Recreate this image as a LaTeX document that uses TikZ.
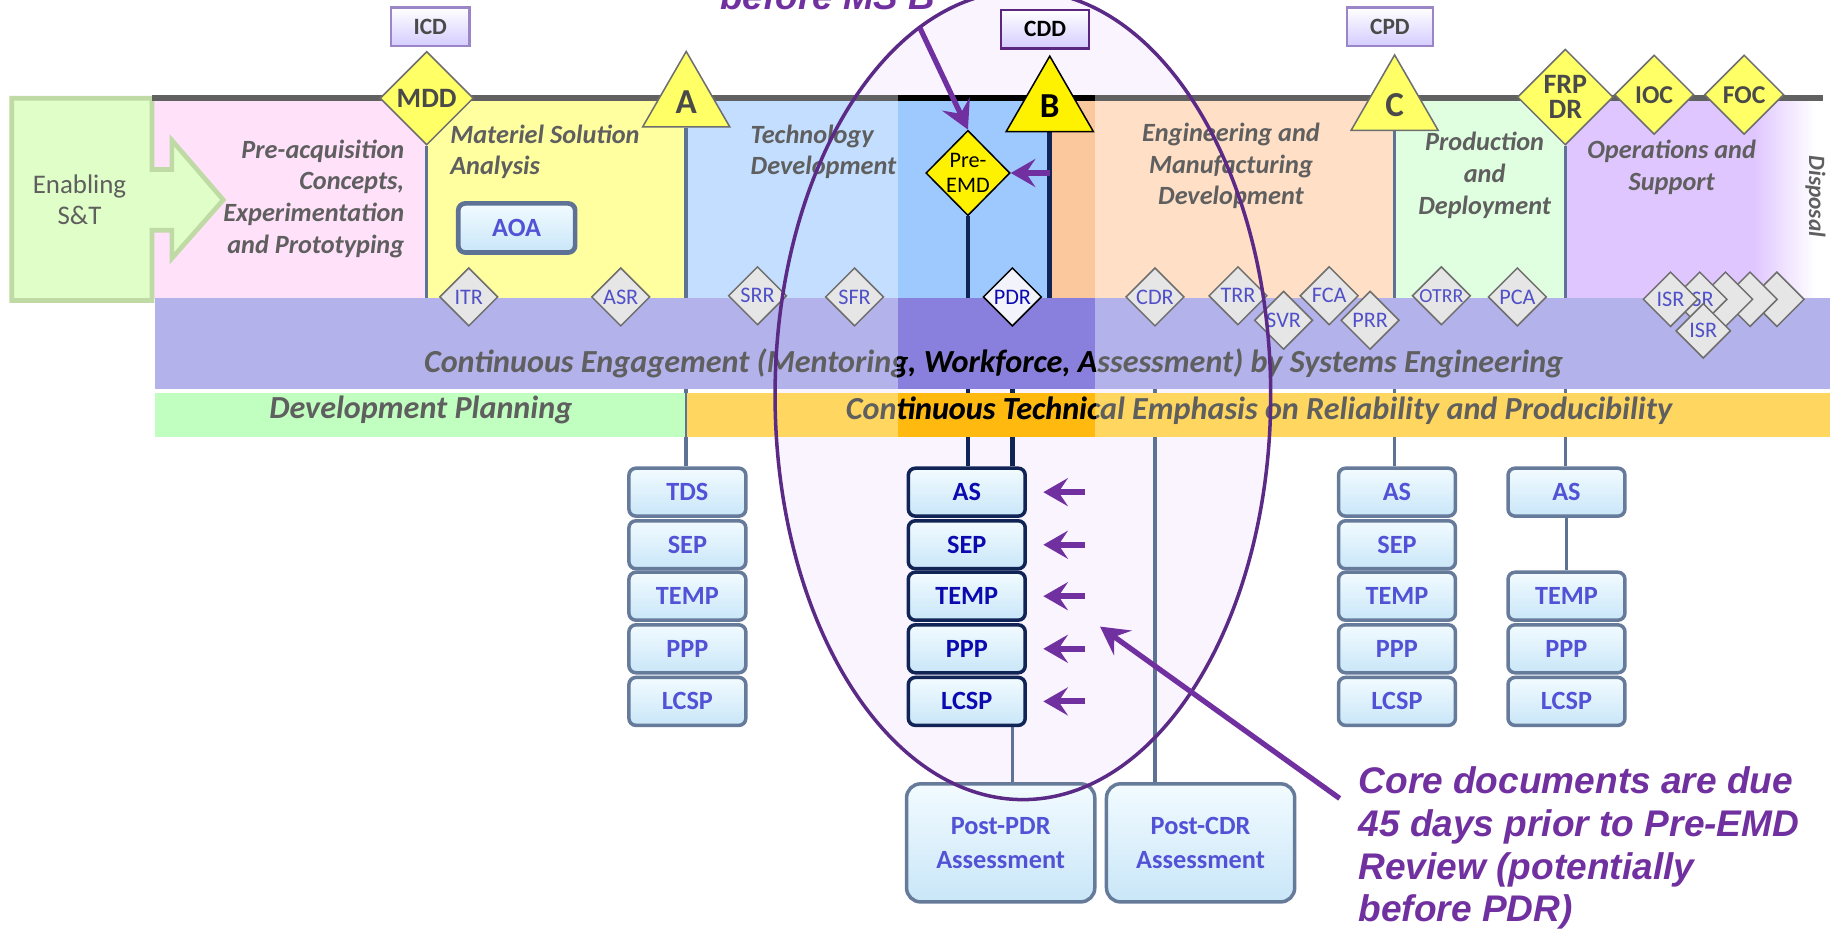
\documentclass[tikz,border=0pt]{standalone}
\usepackage{fontspec}
\setmainfont{Carlito}
\newfontfamily\arialfont{Liberation Sans}
\usetikzlibrary{shapes.geometric,arrows.meta}
\pgfdeclarelayer{back}
\pgfdeclarelayer{lines}
\pgfdeclarelayer{bands}
\pgfdeclarelayer{front}
\pgfsetlayers{back,lines,bands,main,front}

\definecolor{pinkph}{HTML}{FFE1FA}
\definecolor{yellowph}{HTML}{FFFFA0}
\definecolor{blueph}{HTML}{C3DEFF}
\definecolor{bluephB}{HTML}{9DC9FF}
\definecolor{peachB}{HTML}{FBC89E}
\definecolor{peach}{HTML}{FFE0C6}
\definecolor{greenph}{HTML}{E0FFE0}
\definecolor{purpleph}{HTML}{E0C6FF}
\definecolor{bandblue}{HTML}{B3B2EA}
\definecolor{bandblueB}{HTML}{8980DE}
\definecolor{bandgreen}{HTML}{C0FFC0}
\definecolor{bandorange}{HTML}{FFD760}
\definecolor{bandorangeB}{HTML}{FFB90F}
\definecolor{ellfill}{HTML}{FAF4FF}
\definecolor{ellline}{HTML}{5A2A86}
\definecolor{annot}{HTML}{7030A0}
\definecolor{txtgray}{HTML}{5F5F5F}
\definecolor{docline}{HTML}{667A9A}
\definecolor{docTop}{HTML}{F2FBFF}
\definecolor{docBot}{HTML}{C9E6F8}
\definecolor{doctext}{HTML}{5252D6}
\definecolor{navy}{HTML}{102456}
\definecolor{darkdoc}{HTML}{0A0AB0}
\definecolor{revfill}{HTML}{E6E6E6}
\definecolor{revline}{HTML}{6E6E6E}
\definecolor{revtext}{HTML}{5050C8}
\definecolor{msyellow}{HTML}{FFFF66}
\definecolor{msbright}{HTML}{FFF200}
\definecolor{msline}{HTML}{6E6E6E}
\definecolor{mstext}{HTML}{4A4A4A}
\definecolor{msboxline}{HTML}{9A86C6}
\definecolor{msboxfill}{HTML}{D4CCFF}
\definecolor{enfill}{HTML}{E0FFC8}
\definecolor{enline}{HTML}{C0DAA6}
\definecolor{divcol}{HTML}{5E7296}

\tikzset{
  phasetxt/.style={font=\bfseries\itshape\fontsize{22.5}{27}\selectfont, text=txtgray, inner sep=0, align=center},
  bandtxt/.style={font=\bfseries\itshape\fontsize{27.5}{29}\selectfont, inner sep=0},
  doc/.style={draw=docline, line width=3pt, rounded corners=6pt, top color=docTop, bottom color=docBot,
    minimum width=100pt, minimum height=41pt, inner sep=0, text=doctext, font=\bfseries\fontsize{22.5}{24}\selectfont},
  docdark/.style={doc, draw=navy, text=darkdoc},
  postbox/.style={doc, rounded corners=12pt, minimum width=161pt, minimum height=101pt, align=center,
    font=\bfseries\fontsize{22.5}{29}\selectfont},
  review/.style={diamond, draw=revline, line width=1.3pt, fill=revfill, minimum width=50pt, minimum height=50pt,
    inner sep=0, text=revtext, font=\fontsize{19}{20}\selectfont},
  blank/.style={review},
  msdia/.style={diamond, draw=msline, line width=1.3pt, fill=msyellow, inner sep=0, text=mstext,
    font=\bfseries\fontsize{24}{22}\selectfont, align=center},
  mstri/.style={regular polygon, regular polygon sides=3, minimum size=86pt, draw=msline, line width=1.3pt,
    fill=msyellow, inner sep=0, text=mstext, font=\bfseries\fontsize{30}{30}\selectfont},
  msbox/.style={draw=msboxline, line width=2pt, top color=white, bottom color=msboxfill, minimum height=33pt,
    inner sep=0, font=\bfseries\fontsize{20}{20}\selectfont, text=mstext},
  divider/.style={draw=divcol, line width=3pt},
  navyline/.style={draw=navy, line width=4pt},
  smallarrow/.style={draw=annot, line width=5pt, -{Stealth[length=21pt,width=24pt,inset=8pt]}},
  bigarrow/.style={draw=annot, line width=4.5pt, -{Stealth[length=24pt,width=26pt,inset=9pt]}},
}

\begin{document}
\begin{tikzpicture}[x=1pt,y=-1pt]
\useasboundingbox (0,0) rectangle (1568,798);

% ---------- background layer ----------
\begin{pgfonlayer}{back}
  \fill[ellfill] (875,338) ellipse [x radius=212pt, y radius=346pt];
  \fill[pinkph] (130,84) rectangle (365,256);
  \fill[yellowph] (365,84) rectangle (587,256);
  \fill[blueph] (587,84) rectangle (768,256);
  \fill[bluephB] (768,84) rectangle (900,256);
  \fill[peachB] (900,84) rectangle (937,256);
  \fill[peach] (937,84) rectangle (1193,256);
  \fill[greenph] (1193,84) rectangle (1340,256);
  \fill[purpleph] (1340,84) rectangle (1500,256);
  \shade[left color=purpleph, right color=white] (1500,84) rectangle (1553,256);
  \draw[draw=enline, line width=4pt, fill=enfill, line join=miter]
    (10,84) -- (130,84) -- (130,145) -- (147,145) -- (147,120) -- (191,171) -- (147,221)
    -- (147,197) -- (130,197) -- (130,257) -- (10,257) -- cycle;
\end{pgfonlayer}

% ---------- bands ----------
\begin{pgfonlayer}{bands}
  \node[fill=bandblue, minimum width=1432pt, minimum height=78pt, anchor=north west, inner sep=0, outer sep=0] (ceband) at (133,255) {};
  \fill[bandblueB] (768,255) rectangle (937,333);
  \node[fill=bandgreen, minimum width=454pt, minimum height=38pt, anchor=north west, inner sep=0, outer sep=0] (dpband) at (133,336) {};
  \node[fill=bandorange, minimum width=978pt, minimum height=38pt, anchor=north west, inner sep=0, outer sep=0] (ctband) at (587,336) {};
  \fill[bandorangeB] (768,336) rectangle (937,374);
  \draw[divcol, line width=1.5pt] (dpband.north east) -- (dpband.south east);
\end{pgfonlayer}

% ---------- texts in phases ----------
\node[font=\fontsize{23}{27}\selectfont, text=txtgray, align=center] (enab) at (68,171) {Enabling\\S\&T};
\node[phasetxt, align=right, anchor=east] (preacq) at (346,170) {Pre-acquisition\\Concepts,\\Experimentation\\and Prototyping};
\node[phasetxt, align=left, anchor=west] (msa) at (385,130) {Materiel Solution\\Analysis};
\node[phasetxt, align=left, anchor=west] (td) at (642,130) {Technology\\Development};
\node[phasetxt] (emd) at (1053,142) {Engineering and\\Manufacturing\\Development};
\node[phasetxt] (pd) at (1270,150) {Production\\and\\Deployment};
\node[phasetxt] (os) at (1430,143) {Operations and\\Support};
\node[phasetxt, rotate=-90, font=\bfseries\itshape\fontsize{20}{22}\selectfont] (disp) at (1553,168) {Disposal};
\node[doc, minimum width=100pt, minimum height=42pt, line width=4pt, draw=divcol] (AOA) at (442,195) {AOA};

% ---------- band texts ----------
\node[bandtxt, text=txtgray] (cetxt) at (850,311) {Continuous Engagement (Mentoring, Workforce, Assessment) by Systems Engineering};
\node[bandtxt, text=txtgray] (dptxt) at (360,351) {Development Planning};
\node[bandtxt, text=txtgray] (cttxt) at (1077,351) {Continuous Technical Emphasis on Reliability and Producibility};
\begin{scope}
  \clip (768,255) rectangle (937,374);
  \node[bandtxt, text=black] (cetxtk) at (850,311) {Continuous Engagement (Mentoring, Workforce, Assessment) by Systems Engineering};
  \node[bandtxt, text=black] (cttxtk) at (1077,351) {Continuous Technical Emphasis on Reliability and Producibility};
\end{scope}

% ---------- review diamonds ----------
\node[review] (ITR) at (401,254) {ITR};
\node[review] (ASR) at (531,254) {ASR};
\node[review] (SRR) at (648,253) {SRR};
\node[review] (SFR) at (731,254) {SFR};
\node[review, draw=black, fill=revfill!85!blue!20, text=darkdoc] (PDR) at (866,254) {PDR};
\node[review] (CDR) at (988,254) {CDR};
\node[review] (TRR) at (1059,253) {TRR};
\node[review] (FCA) at (1137,253) {FCA};
\node[review] (SVR) at (1098,274) {SVR};
\node[review] (PRR) at (1172,274) {PRR};
\node[review, font=\fontsize{17}{18}\selectfont] (OTRR) at (1233,253) {OTRR};
\node[review] (PCA) at (1298,254) {PCA};
\node[blank, minimum width=47pt, minimum height=47pt] (isrc) at (1520,256) {};
\node[blank, minimum width=47pt, minimum height=47pt] (isrb) at (1497,256) {};
\node[blank, minimum width=47pt, minimum height=47pt] (isra) at (1476,256) {};
\node[review, minimum width=47pt, minimum height=47pt] (ISRb) at (1454,256) {ISR};
\node[review, minimum width=47pt, minimum height=47pt] (ISRa) at (1429,256) {ISR};
\node[review, minimum width=47pt, minimum height=47pt] (ISRd) at (1457,283) {ISR};

% ---------- milestones ----------
\node[msbox, minimum width=67pt] (ICD) at (368,23) {ICD};
\node[msbox, minimum width=75pt, draw=annot!80!black, text=black] (CDD) at (894,25) {CDD};
\node[msbox, minimum width=74pt] (CPD) at (1189,23) {CPD};
\node[msdia, minimum width=80pt, minimum height=80pt] (MDD) at (365,84) {MDD};
\node[mstri] (A) at (587,87) {A};
\node[mstri, fill=msbright, draw=black, text=black] (B) at (898,91) {B};
\node[mstri] (C) at (1193,90) {C};
\node[msdia, minimum width=82pt, minimum height=82pt] (FRP) at (1339,83) {FRP\\DR};
\node[msdia, minimum width=68pt, minimum height=68pt, font=\bfseries\fontsize{22}{22}\selectfont] (IOC) at (1415,81) {IOC};
\node[msdia, minimum width=68pt, minimum height=68pt, font=\bfseries\fontsize{22}{22}\selectfont] (FOC) at (1492,81) {FOC};
\node[msdia, minimum width=72pt, minimum height=73pt, fill=msbright, draw=black, text=black,
      font=\fontsize{19}{21}\selectfont] (preemd) at (828,148) {Pre-\\EMD};

% ---------- document boxes ----------
\node[doc] (TDS) at (588,421) {TDS};
\node[doc] (SEPa) at (588,466) {SEP};
\node[doc] (TEMPa) at (588,510) {TEMP};
\node[doc] (PPPa) at (588,555) {PPP};
\node[doc] (LCSPa) at (588,600) {LCSP};

\node[docdark] (ASm) at (827,421) {AS};
\node[docdark] (SEPm) at (827,466) {SEP};
\node[docdark] (TEMPm) at (827,510) {TEMP};
\node[docdark] (PPPm) at (827,555) {PPP};
\node[docdark] (LCSPm) at (827,600) {LCSP};

\node[doc] (ASr1) at (1195,421) {AS};
\node[doc] (SEPr1) at (1195,466) {SEP};
\node[doc] (TEMPr1) at (1195,510) {TEMP};
\node[doc] (PPPr1) at (1195,555) {PPP};
\node[doc] (LCSPr1) at (1195,600) {LCSP};

\node[doc] (ASr2) at (1340,421) {AS};
\node[doc] (TEMPr2) at (1340,510) {TEMP};
\node[doc] (PPPr2) at (1340,555) {PPP};
\node[doc] (LCSPr2) at (1340,600) {LCSP};
\draw[divider] (ASr2.south) -- (TEMPr2.north);

\node[postbox] (postpdr) at (856,721) {Post-PDR\\Assessment};
\node[postbox] (postcdr) at (1027,721) {Post-CDR\\Assessment};

% ---------- connector lines (behind bands) ----------
\begin{pgfonlayer}{lines}
  \coordinate (tl0) at (130,84);
  \coordinate (tl1) at (1559,84);
  \coordinate (tlk0) at (768,84);
  \coordinate (tlk1) at (937,84);
  \draw[draw=black!62, line width=5pt] (tl0) -- (tl1);
  \draw[draw=black, line width=5pt] (tlk0) -- (tlk1);
  \draw[divider] (MDD.south) -- (MDD.south |- ceband.north);
  \draw[divider] (A.south) -- (A.south |- TDS.north);
  \draw[navyline] (preemd.south) -- (preemd.south |- ASm.north);
  \draw[navyline] (B.south) -- (B.south |- ceband.north);
  \draw[navyline] (PDR.south) -- (PDR.south |- ASm.north);
  \draw[divider] (CDR.south) -- (CDR.south |- postcdr.north);
  \draw[divider] (C.south) -- (C.south |- ASr1.north);
  \draw[divider] (FRP.south) -- (FRP.south |- ASr2.north);
  \draw[divider] (PDR.south |- LCSPm.south) -- (PDR.south |- postpdr.north);
\end{pgfonlayer}

% ---------- annotations ----------
\begin{pgfonlayer}{front}
  \draw[ellline, line width=3pt] (875,338) ellipse [x radius=212pt, y radius=346pt];
  \foreach \n in {ASm,SEPm,TEMPm,PPPm,LCSPm}{
    \draw[smallarrow] ([xshift=50pt]\n.east) -- ([xshift=14pt]\n.east);
  }
  \coordinate (msbTail) at (787,24);
  \draw[bigarrow] (msbTail) -- (preemd.north);
  \draw[smallarrow, line width=4.5pt] (B.south |- preemd.east) -- (preemd.east);
  \node[font=\arialfont\bfseries\itshape\fontsize{31.5}{36.5}\selectfont, text=annot, anchor=base west, inner sep=0] (msb) at (616,8) {before MS B};
  \node[font=\arialfont\bfseries\itshape\fontsize{31.7}{36.5}\selectfont, text=annot, align=left, anchor=north west, inner sep=0] (core) at (1162,656)
    {Core documents are due\\45 days prior to Pre-EMD\\Review (potentially\\before PDR)};
  \coordinate (coreTail) at (1146,683);
  \coordinate (coreTip) at (941,536);
  \draw[bigarrow] (coreTail) -- (coreTip);
\end{pgfonlayer}
\end{tikzpicture}
\end{document}
